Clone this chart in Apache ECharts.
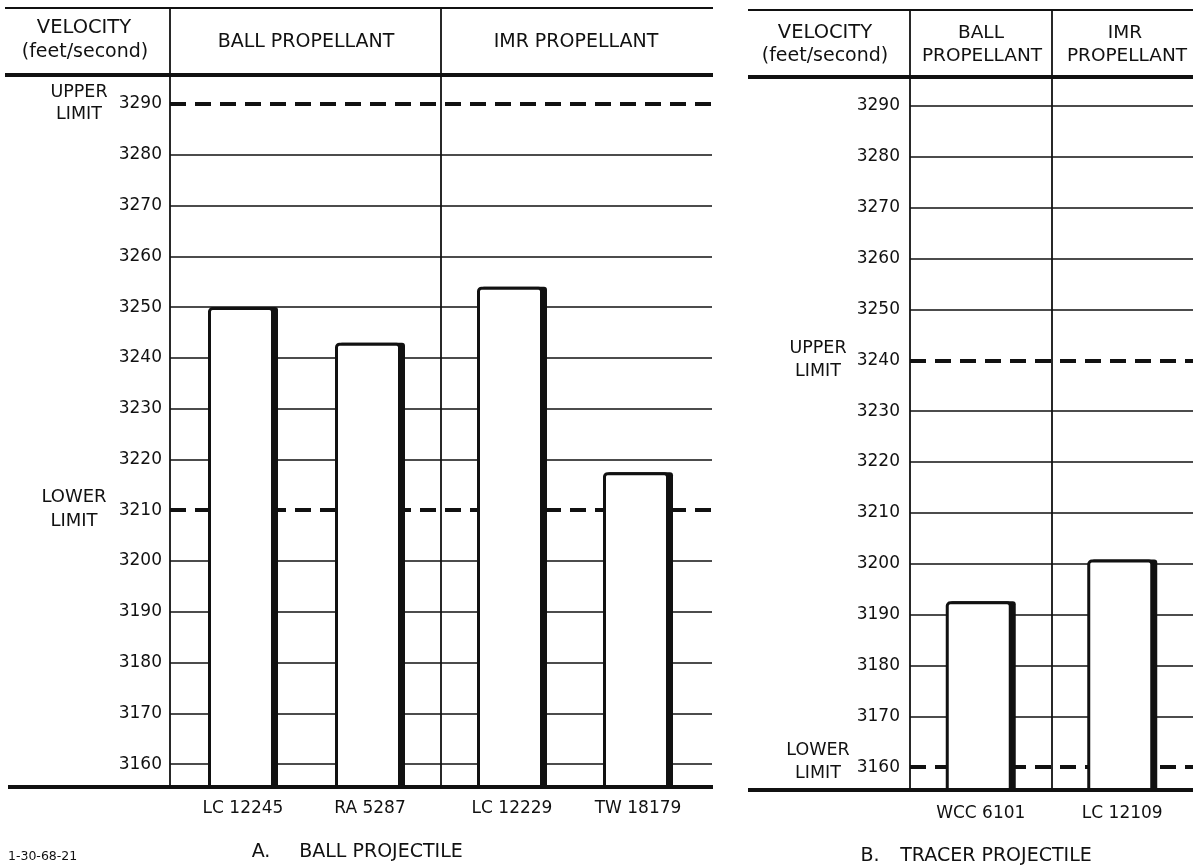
<!DOCTYPE html>
<html>
<head>
<meta charset="utf-8">
<script src="https://cdn.jsdelivr.net/npm/echarts@6/dist/echarts.min.js"></script>
<style>
html,body{margin:0;padding:0;background:#fff;}
#chart{width:1193px;height:866px;}
</style>
</head>
<body>
<div id="chart"></div>
<script>
// ---- data ----
// A. Ball projectile
const ballPropLots = ['LC 12245', 'RA 5287'];
const ballPropVelocity = [3250, 3243];
const imrPropLots = ['LC 12229', 'TW 18179'];
const imrPropVelocity = [3254, 3217.5];
// B. Tracer projectile
const tracerCategories = ['WCC 6101', 'LC 12109'];
const tracerVelocity = [3192.6, 3200.8];
// axis ticks and limits
const velocityTicks = [3160, 3170, 3180, 3190, 3200, 3210, 3220, 3230, 3240, 3250, 3260, 3270, 3280, 3290];
const ballLimits = [3290, 3210];     // upper, lower
const tracerLimits = [3240, 3160];   // upper, lower

const INK = '#111';
const FONT = '"DejaVu Sans", sans-serif';
const yMin = 3155.5, yMax = 3295.7;
const BAR_W = 66, SHADOW = 4;

const chart = echarts.init(document.getElementById('chart'), null, {renderer: 'canvas'});

function gridLineData(limits) {
  return velocityTicks.filter(v => limits.indexOf(v) < 0).map(v => ({yAxis: v}));
}
function helperSeries(idx, limits) {
  return [{
    type: 'line', xAxisIndex: idx, yAxisIndex: idx, data: [], z: 1, silent: true,
    markLine: {
      symbol: 'none', silent: true, label: {show: false}, animation: false,
      lineStyle: {color: INK, width: 1.5, type: 'solid'},
      data: gridLineData(limits)
    }
  }, {
    type: 'line', xAxisIndex: idx, yAxisIndex: idx, data: [], z: 1, silent: true,
    markLine: {
      symbol: 'none', silent: true, label: {show: false}, animation: false,
      lineStyle: {color: INK, width: 4, type: [16, 9]},
      data: limits.map(v => ({yAxis: v}))
    }
  }];
}
function barPair(idx, values) {
  const gap = (-(BAR_W - SHADOW) / BAR_W * 100).toFixed(2) + '%';
  return [{
    type: 'bar', xAxisIndex: idx, yAxisIndex: idx, data: values, barWidth: BAR_W, barGap: gap, z: 6, silent: true,
    itemStyle: {color: '#fff', borderColor: INK, borderWidth: 3, borderRadius: [3, 3, 0, 0]}
  }, {
    type: 'bar', xAxisIndex: idx, yAxisIndex: idx, data: values, barWidth: BAR_W, barGap: gap, z: 5, silent: true,
    itemStyle: {color: INK, borderWidth: 0, borderRadius: [3, 3, 0, 0]}
  }];
}

function txt(text, x, y, size, align) {
  return {type: 'text', z: 100, style: {text: text, x: x, y: y, fill: INK,
    font: (size || 17) + 'px ' + FONT, textAlign: align || 'center', textVerticalAlign: 'middle'}};
}
function ln(x1, y1, x2, y2, w) {
  return {type: 'line', z: 100, shape: {x1: x1, y1: y1, x2: x2, y2: y2},
    style: {stroke: INK, lineWidth: w}};
}

const yLabel = {customValues: velocityTicks, color: INK, fontFamily: FONT, fontSize: 17,
  formatter: v => String(v)};
function yAx(grid, showLabels, margin) {
  return {type: 'value', gridIndex: grid, min: yMin, max: yMax,
    splitLine: {show: false}, axisTick: {show: false}, axisLine: {show: false},
    axisLabel: showLabels ? Object.assign({}, yLabel, {margin: margin}) : {show: false}};
}
function catAx(grid, cats, margin) {
  return {type: 'category', gridIndex: grid, data: cats,
    axisLine: {show: false}, axisTick: {show: false},
    axisLabel: {color: INK, fontFamily: FONT, fontSize: 17, margin: margin}};
}

const option = {
  backgroundColor: '#fff',
  animation: false,
  grid: [
    {left: 170, top: 75, width: 542, height: 712},     // panel A rules
    {left: 910, top: 77, width: 286, height: 713},     // panel B
    {left: 179.5, top: 75, width: 254, height: 712},   // panel A ball propellant bars
    {left: 449, top: 75, width: 252, height: 712}      // panel A IMR propellant bars
  ],
  xAxis: [
    {type: 'value', gridIndex: 0, min: 0, max: 1, show: false},
    catAx(1, tracerCategories, 15),
    catAx(2, ballPropLots, 13),
    catAx(3, imrPropLots, 13)
  ],
  yAxis: [
    yAx(0, true, 8),
    yAx(1, true, 10),
    yAx(2, false),
    yAx(3, false)
  ],
  series: [].concat(
    helperSeries(0, ballLimits),
    helperSeries(1, tracerLimits),
    barPair(2, ballPropVelocity),
    barPair(3, imrPropVelocity),
    barPair(1, tracerVelocity)
  ),
  graphic: [
    // panel A frame
    ln(5, 8, 713, 8, 2),
    ln(5, 75, 713, 75, 4),
    ln(8, 787, 713, 787, 4),
    ln(170, 8, 170, 787, 1.8),
    ln(441, 8, 441, 787, 1.8),
    // panel B frame
    ln(748, 10, 1193, 10, 2),
    ln(748, 77, 1193, 77, 4),
    ln(748, 790, 1193, 790, 4),
    ln(910, 10, 910, 790, 1.8),
    ln(1052, 10, 1052, 790, 1.8),
    // panel A header
    txt('VELOCITY', 84, 28, 19.5),
    txt('(feet/second)', 85, 52, 19),
    txt('BALL PROPELLANT', 306, 42, 19),
    txt('IMR PROPELLANT', 576, 42, 19),
    txt('UPPER', 79, 92, 17.5),
    txt('LIMIT', 79, 114, 17.5),
    txt('LOWER', 74, 497, 18),
    txt('LIMIT', 74, 521, 18),
    // panel B header
    txt('VELOCITY', 825, 33, 19.5),
    txt('(feet/second)', 825, 56, 19),
    txt('BALL', 981, 33, 18.5),
    txt('PROPELLANT', 982, 56, 18.5),
    txt('IMR', 1125, 33, 18.5),
    txt('PROPELLANT', 1127, 56, 18.5),
    txt('UPPER', 818, 348, 17.5),
    txt('LIMIT', 818, 371, 17.5),
    txt('LOWER', 818, 750, 17.5),
    txt('LIMIT', 818, 773, 17.5),
    // captions
    txt('A.', 261, 852, 19),
    txt('BALL PROJECTILE', 381, 852, 19),
    txt('B.', 870, 856, 19),
    txt('TRACER PROJECTILE', 996, 856, 19),
    txt('1-30-68-21', 8, 857, 12.5, 'left')
  ]
};
chart.setOption(option);
</script>
</body>
</html>
